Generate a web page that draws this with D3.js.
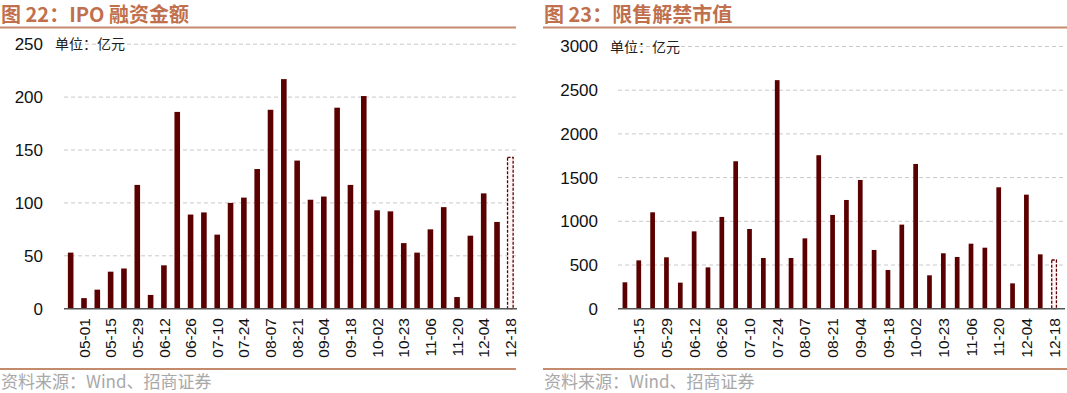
<!DOCTYPE html>
<html><head><meta charset="utf-8">
<script src="https://cdn.jsdelivr.net/npm/d3@7"></script>
<style>
body{margin:0;background:#fff;}
svg{display:block;}
.lat{font-family:"Liberation Sans",Arial,sans-serif;}
.cjk{font-family:"Noto Sans CJK SC","Liberation Sans",sans-serif;}
</style></head>
<body>
<svg id="c" width="1067" height="393"></svg>
<script>
// ---- Data ----
const ipoDates = ["04-24","05-01","05-08","05-15","05-22","05-29","06-05","06-12","06-19","06-26","07-03","07-10","07-17","07-24","07-31","08-07","08-14","08-21","08-28","09-04","09-11","09-18","09-25","10-02","10-16","10-23","10-30","11-06","11-13","11-20","11-27","12-04","12-11","12-18"];
const ipoValues = [53,10,18,35,38,117,13,41,186,89,91,70,100,105,132,188,217,140,103,106,190,117,201,93,92,62,53,75,96,11,69,109,82,143];
const ipoTicks = [0,50,100,150,200,250];

const unlockDates = ["05-08","05-15","05-22","05-29","06-05","06-12","06-19","06-26","07-03","07-10","07-17","07-24","07-31","08-07","08-14","08-21","08-28","09-04","09-11","09-18","09-25","10-02","10-16","10-23","10-30","11-06","11-13","11-20","11-27","12-04","12-11","12-18"];
const unlockValues = [302,553,1103,588,298,885,473,1050,1687,912,580,2615,580,805,1756,1073,1244,1473,672,443,962,1656,382,634,592,744,698,1389,290,1305,622,557];
const unlockTicks = [0,500,1000,1500,2000,2500,3000];

const svg = d3.select("#c");
const titleColor = "#C0704C";
const lineColor = "#C48A6C";
const barColor = "#5B0000";
const LAT = '"Liberation Sans", Arial, sans-serif';

function panel(o){
  const g = svg.append("g");
  // title
  g.append("text").attr("class","cjk").attr("x",o.x0+1).attr("y",22)
    .attr("font-size",20).attr("font-weight","bold").attr("fill",titleColor).text(o.title);
  g.append("line").attr("x1",o.x0).attr("x2",o.x1).attr("y1",27.5).attr("y2",27.5)
    .attr("stroke",lineColor).attr("stroke-width",2);
  g.append("line").attr("x1",o.x0).attr("x2",o.x1).attr("y1",369).attr("y2",369)
    .attr("stroke",lineColor).attr("stroke-width",2);
  g.append("text").attr("class","cjk").attr("x",o.x0+1).attr("y",388)
    .attr("font-size",17).attr("fill","#a8a8a8").text("资料来源：Wind、招商证券");

  const y = d3.scaleLinear().domain([0,o.max]).range([308.7,o.yTop]);
  const x = d3.scaleBand().domain(o.dates).range([o.px0,o.px1]).paddingInner(o.pad).paddingOuter(o.pad/2);

  // grid
  const grid = g.append("g");
  o.ticks.filter(t=>t>0).forEach(t=>{
    grid.append("line").attr("x1",o.px0).attr("x2",o.gx1).attr("y1",y(t)).attr("y2",y(t))
      .attr("stroke","#c9c9c9").attr("stroke-width",1).attr("stroke-dasharray","4,3");
  });
  // y axis labels
  const ya = g.append("g").attr("transform",`translate(${o.yLabX},0)`)
    .call(d3.axisLeft(y).tickValues(o.ticks).tickFormat(d3.format("d")).tickSize(0).tickPadding(0));
  ya.attr("font-family",LAT).attr("font-size",17);
  ya.select(".domain").remove();
  ya.selectAll("text").attr("fill","#111");

  // unit label
  g.append("text").attr("class","cjk").attr("x",o.unitX).attr("y",y(o.max)+5)
    .attr("font-size",14).attr("fill","#222").text("单位：亿元");

  // bars
  const n = o.dates.length;
  g.append("g").selectAll("rect").data(o.values).join("rect")
    .attr("x",(d,i)=>x(o.dates[i]))
    .attr("y",d=>y(d))
    .attr("width",x.bandwidth())
    .attr("height",d=>y(0)-y(d))
    .attr("fill",(d,i)=> i===n-1 ? "#fff7f5" : barColor)
    .attr("stroke",(d,i)=> i===n-1 ? barColor : "none")
    .attr("stroke-width",1.3)
    .attr("stroke-dasharray",(d,i)=> i===n-1 ? "3,1.5" : null);

  // zero axis
  g.append("line").attr("x1",o.px0).attr("x2",o.gx1).attr("y1",y(0)).attr("y2",y(0))
    .attr("stroke","#555").attr("stroke-width",1.5);

  // x labels (every other)
  const labeled = o.dates.filter((d,i)=> i%2===1);
  const xa = g.append("g").attr("transform","translate(0,318)")
    .call(d3.axisBottom(x).tickValues(labeled).tickSize(0).tickPadding(0));
  xa.attr("font-family",LAT).attr("font-size",15.5);
  xa.select(".domain").remove();
  xa.selectAll(".tick text").attr("fill","#111")
    .attr("transform","rotate(-90)").attr("text-anchor","end")
    .attr("x",0).attr("y",0).attr("dy","0.36em");
}

panel({x0:0,x1:516,title:"图 22：IPO 融资金额",dates:ipoDates,values:ipoValues,ticks:ipoTicks,max:250,yTop:44.2,
  px0:64,px1:517,gx1:517,pad:0.58,yLabX:43,unitX:55});
panel({x0:543,x1:1067,title:"图 23：限售解禁市值",dates:unlockDates,values:unlockValues,ticks:unlockTicks,max:3000,yTop:46.5,
  px0:618,px1:1061,gx1:1065,pad:0.66,yLabX:598,unitX:610});
</script>
</body></html>
